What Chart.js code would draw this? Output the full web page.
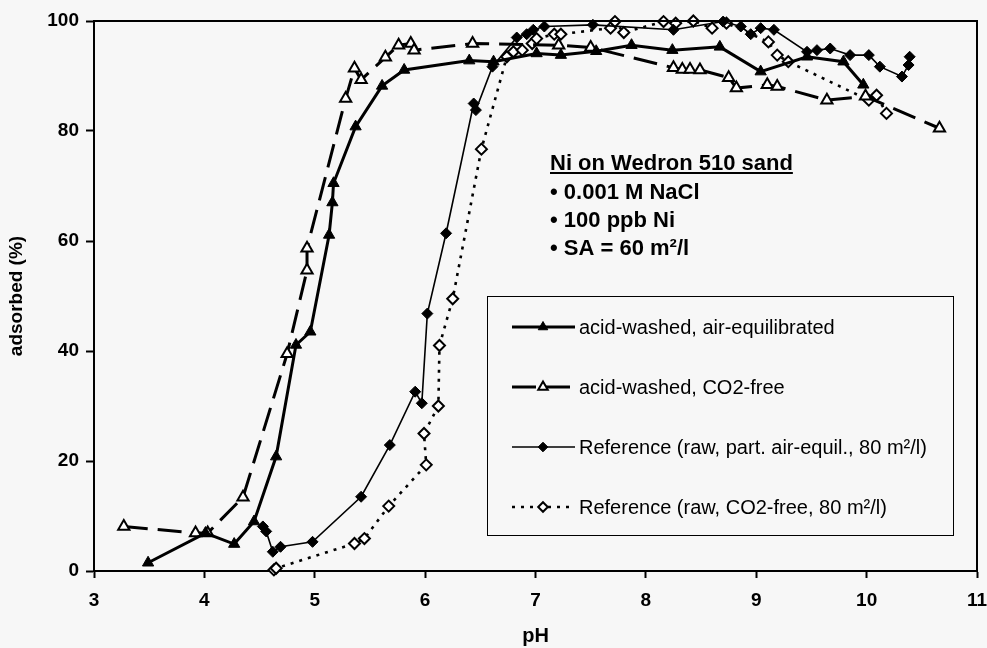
<!DOCTYPE html>
<html>
<head>
<meta charset="utf-8">
<script src="https://cdn.jsdelivr.net/npm/chart.js@4.4.1/dist/chart.umd.min.js"></script>
<style>
  html, body { margin: 0; padding: 0; background: #f7f7f7; }
  #wrap { width: 987px; height: 648px; }
</style>
</head>
<body>
<div id="wrap"><canvas id="c" width="987" height="648"></canvas></div>
<script>
// ---------------- DATA ----------------
const xTicks = [3, 4, 5, 6, 7, 8, 9, 10, 11];
const yTicks = [0, 20, 40, 60, 80, 100];

const seriesNames = [
  'acid-washed, air-equilibrated',
  'acid-washed, CO2-free',
  'Reference (raw, part. air-equil., 80 m\u00B2/l)',
  'Reference (raw, CO2-free, 80 m\u00B2/l)'
];

// acid-washed, air-equilibrated (filled triangles)
const phAirEq  = [3.49, 4.01, 4.27, 4.45, 4.65, 4.83, 4.96, 5.13, 5.16, 5.17, 5.37, 5.61, 5.81, 6.40, 6.62, 7.01, 7.23, 7.55, 7.87, 8.24, 8.67, 9.04, 9.46, 9.79, 9.97];
const adsAirEq = [1.5, 6.9, 4.9, 9.0, 20.8, 41.1, 43.5, 61.1, 67.0, 70.5, 80.8, 88.2, 91.1, 92.8, 92.6, 94.1, 93.8, 94.5, 95.6, 94.7, 95.3, 90.8, 93.5, 92.6, 88.4];

// acid-washed, CO2-free (open triangles)
const phCO2  = [3.27, 3.92, 4.03, 4.35, 4.75, 4.93, 4.93, 5.28, 5.36, 5.42, 5.64, 5.76, 5.87, 5.90, 6.43, 7.21, 7.50, 8.25, 8.33, 8.40, 8.49, 8.75, 8.82, 9.10, 9.19, 9.64, 9.99, 10.66];
const adsCO2 = [8.1, 6.9, 6.9, 13.4, 39.5, 54.7, 58.7, 85.9, 91.4, 89.3, 93.4, 95.6, 95.9, 94.7, 95.9, 95.6, 95.2, 91.5, 91.2, 91.2, 91.1, 89.7, 87.8, 88.4, 88.1, 85.6, 86.3, 80.5];

// Reference raw, part. air-equil. (filled diamonds)
const phRefAir  = [4.53, 4.56, 4.62, 4.69, 4.98, 5.42, 5.68, 5.91, 5.97, 6.02, 6.19, 6.44, 6.46, 6.61, 6.83, 6.92, 6.98, 7.08, 7.52, 8.25, 8.70, 8.86, 8.95, 9.04, 9.16, 9.46, 9.55, 9.67, 9.85, 10.02, 10.12, 10.32, 10.38, 10.39];
const adsRefAir = [8.1, 7.2, 3.5, 4.4, 5.3, 13.5, 22.9, 32.6, 30.5, 46.8, 61.4, 85.0, 83.8, 91.7, 97.0, 97.6, 98.4, 99.0, 99.3, 98.4, 99.9, 99.0, 97.6, 98.7, 98.4, 94.4, 94.7, 95.0, 93.8, 93.8, 91.7, 89.9, 92.0, 93.5];

// Reference raw, CO2-free (open diamonds)
const phRefCO2  = [4.63, 4.65, 5.36, 5.45, 5.67, 6.01, 5.99, 6.12, 6.13, 6.25, 6.51, 6.74, 6.80, 6.88, 6.97, 7.01, 7.17, 7.23, 7.68, 7.72, 7.80, 8.16, 8.27, 8.43, 8.60, 8.73, 9.11, 9.19, 9.29, 10.02, 10.09, 10.18];
const adsRefCO2 = [0.2, 0.5, 5.0, 5.9, 11.8, 19.3, 25.0, 30.0, 41.0, 49.5, 76.7, 93.5, 94.4, 94.7, 95.9, 96.8, 97.6, 97.6, 98.7, 99.9, 97.9, 99.9, 99.6, 100, 98.7, 99.6, 96.2, 93.8, 92.6, 85.6, 86.5, 83.2];

const annotationTitle = 'Ni on Wedron 510 sand';
const annotationLines = ['\u2022 0.001 M NaCl', '\u2022 100 ppb Ni', '\u2022 SA = 60 m\u00B2/l'];

// ---------------- BUILD ----------------
const FONT = '"Liberation Sans", Arial, Helvetica, sans-serif';
const BG = '#f7f7f7';
const zip = (xs, ys) => xs.map((x, i) => ({ x: x, y: ys[i] }));

const datasets = [
  { label: seriesNames[0], data: zip(phAirEq, adsAirEq), borderColor: '#000', backgroundColor: '#000',
    borderWidth: 3, borderDash: [], pointStyle: 'triangle', pointRadius: 6.5, pointBorderWidth: 1,
    pointBackgroundColor: '#000', pointBorderColor: '#000' },
  { label: seriesNames[1], data: zip(phCO2, adsCO2), borderColor: '#000', backgroundColor: '#fff',
    borderWidth: 3, borderDash: [24, 10], pointStyle: 'triangle', pointRadius: 6.5, pointBorderWidth: 2,
    pointBackgroundColor: '#fff', pointBorderColor: '#000' },
  { label: seriesNames[2], data: zip(phRefAir, adsRefAir), borderColor: '#000', backgroundColor: '#000',
    borderWidth: 1.6, borderDash: [], pointStyle: 'rectRot', pointRadius: 5.5, pointBorderWidth: 1,
    pointBackgroundColor: '#000', pointBorderColor: '#000' },
  { label: seriesNames[3], data: zip(phRefCO2, adsRefCO2), borderColor: '#000', backgroundColor: '#fff',
    borderWidth: 2.6, borderDash: [3, 6], pointStyle: 'rectRot', pointRadius: 5.5, pointBorderWidth: 2,
    pointBackgroundColor: '#fff', pointBorderColor: '#000' }
].map(d => Object.assign(d, { showLine: true, tension: 0, clip: false, pointHoverRadius: d.pointRadius }));

function drawMarker(ctx, style, r, x, y, fill, bw) {
  ctx.save();
  ctx.fillStyle = fill;
  ctx.strokeStyle = '#000';
  ctx.lineWidth = bw;
  ctx.setLineDash([]);
  if (Chart.helpers && Chart.helpers.drawPoint) {
    Chart.helpers.drawPoint(ctx, { pointStyle: style, radius: r, rotation: 0, borderWidth: bw }, x, y);
  }
  ctx.restore();
}

const decorPlugin = {
  id: 'decor',
  beforeDraw(chart) {
    const ctx = chart.ctx;
    ctx.save();
    ctx.fillStyle = BG;
    ctx.fillRect(0, 0, chart.width, chart.height);
    ctx.restore();
  },
  afterDraw(chart) {
    const ctx = chart.ctx;
    const a = chart.chartArea;
    ctx.save();
    // frame (top & right)
    ctx.strokeStyle = '#000';
    ctx.lineWidth = 2;
    ctx.setLineDash([]);
    ctx.beginPath();
    ctx.moveTo(a.left, a.top);
    ctx.lineTo(a.right, a.top);
    ctx.lineTo(a.right, a.bottom);
    ctx.stroke();

    // annotation text
    ctx.fillStyle = '#000';
    ctx.textAlign = 'left';
    ctx.textBaseline = 'alphabetic';
    ctx.font = 'bold 22px ' + FONT;
    const ax = a.left + 456, ay = a.top + 149;
    ctx.fillText(annotationTitle, ax, ay);
    const tw = ctx.measureText(annotationTitle).width;
    ctx.fillRect(ax, ay + 2, tw, 2);
    annotationLines.forEach((t, i) => ctx.fillText(t, ax, ay + 29 + i * 28));

    // legend box
    const lx = a.left + 393, ly = a.top + 275, lw = 466, lh = 239;
    ctx.lineWidth = 1;
    ctx.strokeStyle = '#000';
    ctx.strokeRect(lx + 0.5, ly + 0.5, lw, lh);
    ctx.font = '20px ' + FONT;
    chart.data.datasets.forEach((d, i) => {
      const rowY = ly + 31 + i * 60;
      ctx.save();
      ctx.strokeStyle = '#000';
      ctx.lineWidth = d.borderWidth;
      ctx.setLineDash(d.borderDash || []);
      ctx.beginPath();
      ctx.moveTo(lx + 25, rowY);
      ctx.lineTo(lx + 88, rowY);
      ctx.stroke();
      ctx.restore();
      drawMarker(ctx, d.pointStyle, d.pointStyle === 'triangle' ? 5.5 : 4.8, lx + 56, rowY,
                 d.pointBackgroundColor, d.pointBorderWidth);
      ctx.fillStyle = '#000';
      ctx.fillText(d.label, lx + 92, rowY + 7);
    });
    ctx.restore();
  }
};

const tickFont = { family: FONT, size: 19, weight: 'bold' };

new Chart(document.getElementById('c'), {
  type: 'scatter',
  data: { datasets: datasets },
  plugins: [decorPlugin],
  options: {
    responsive: false,
    animation: false,
    devicePixelRatio: 1,
    layout: { padding: { top: 21, right: 10, bottom: 0, left: 0 } },
    plugins: { legend: { display: false }, tooltip: { enabled: false } },
    scales: {
      x: {
        type: 'linear', position: 'bottom',
        min: xTicks[0], max: xTicks[xTicks.length - 1],
        afterFit(s) { s.height = 77; s.paddingRight = 0; s.paddingLeft = 0; },
        afterBuildTicks(s) { s.ticks = xTicks.map(v => ({ value: v })); },
        ticks: { font: tickFont, color: '#000', padding: 11, maxRotation: 0 },
        grid: { drawOnChartArea: false, drawTicks: true, tickLength: 7, tickColor: '#000', tickWidth: 2 },
        border: { display: true, color: '#000', width: 2 },
        title: { display: true, text: 'pH', color: '#000', font: { family: FONT, size: 20, weight: 'bold' }, padding: { top: 0, bottom: 0 } }
      },
      y: {
        type: 'linear', position: 'left',
        min: yTicks[0], max: yTicks[yTicks.length - 1],
        afterFit(s) { s.width = 94; s.paddingTop = 0; s.paddingBottom = 0; },
        afterBuildTicks(s) { s.ticks = yTicks.map(v => ({ value: v })); },
        ticks: { font: tickFont, color: '#000', padding: 7 },
        grid: { drawOnChartArea: false, drawTicks: true, tickLength: 8, tickColor: '#000', tickWidth: 2 },
        border: { display: true, color: '#000', width: 2 },
        title: { display: true, text: 'adsorbed (%)', color: '#000', font: { family: FONT, size: 19, weight: 'bold' }, padding: { top: 5, bottom: 0 } }
      }
    }
  }
});
</script>
</body>
</html>
